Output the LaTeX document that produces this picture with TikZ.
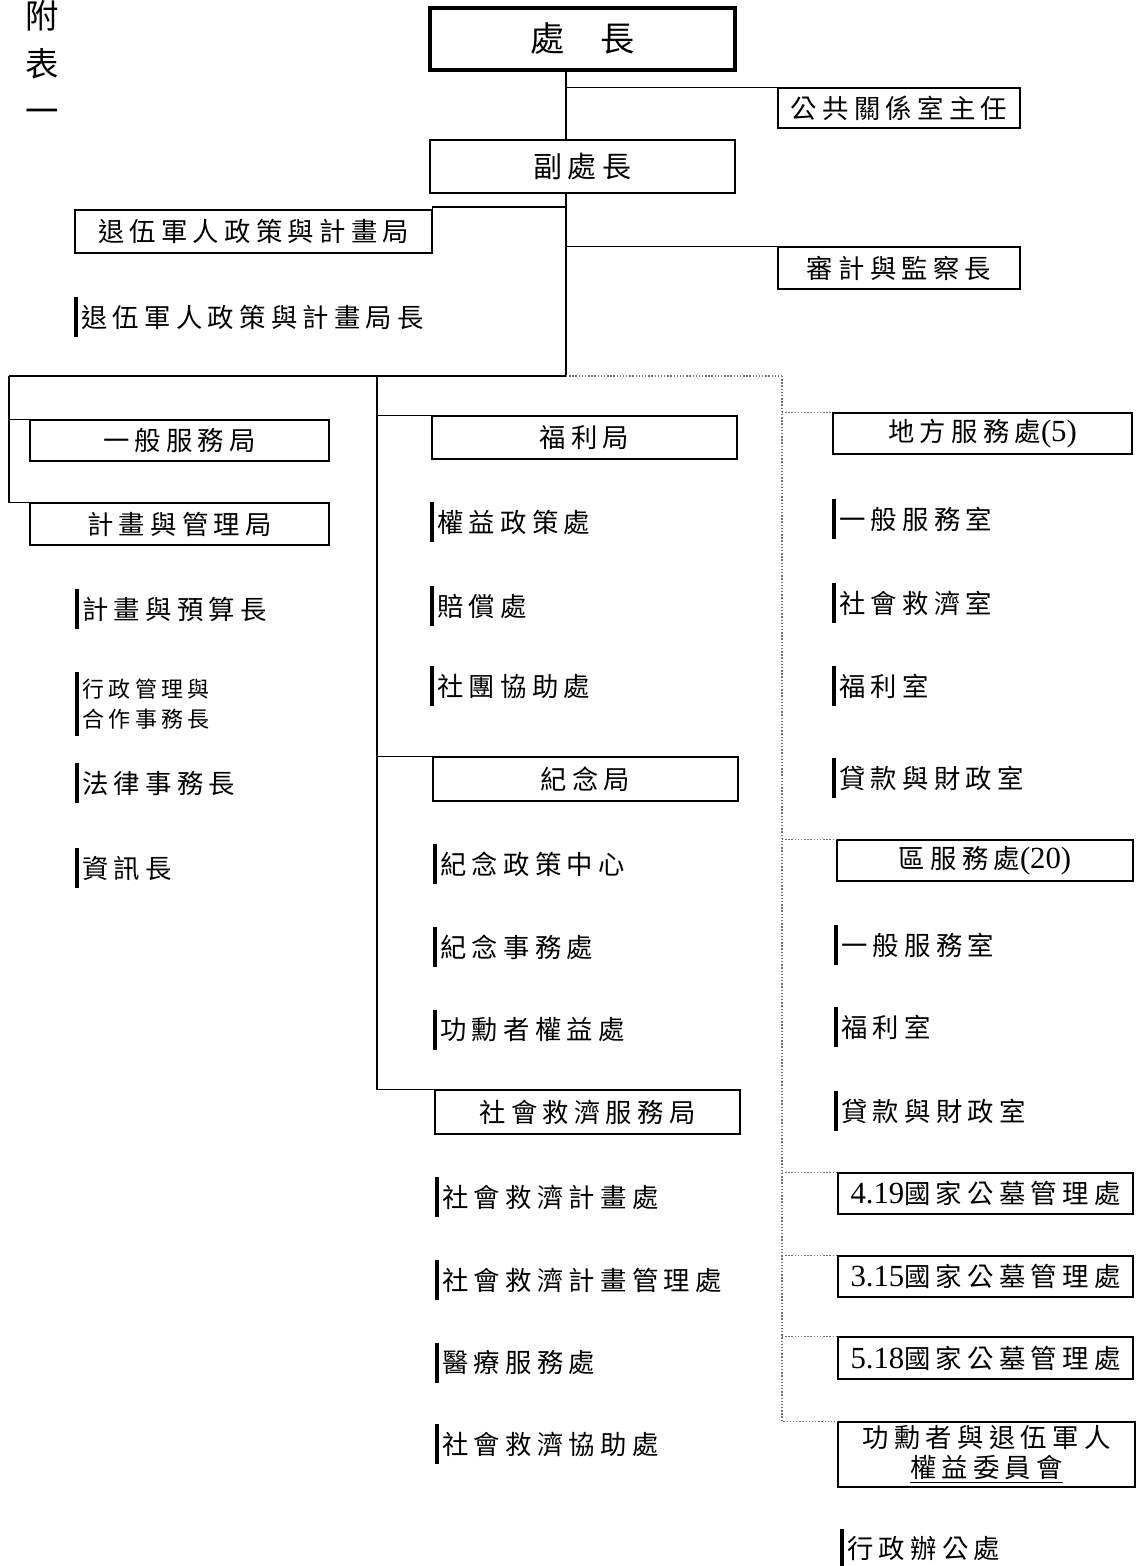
\documentclass[tikz,border=0pt]{standalone}
\usepackage{fontspec}
\setmainfont{Liberation Serif}
\newfontfamily\cjk[LetterSpace=20]{Noto Sans CJK TC}
\newfontfamily\numfont{Liberation Serif}
\newcommand{\nm}[1]{{\numfont\fontsize{17.5}{17.5}\selectfont #1}}

\begin{document}
\begin{tikzpicture}[x=0.02cm, y=-0.02cm,
  every node/.style={font=\cjk\fontsize{15}{17}\selectfont},
  unit/.style={draw, line width=0.7pt, inner sep=0pt, minimum height=0.84cm},
  item/.style={anchor=west, inner xsep=0.1cm, inner ysep=0pt, minimum height=0.8cm},
  bar/.style={line width=2.4pt},
  link/.style={line width=0.8pt},
  dotlink/.style={line width=0.8pt, black!55, densely dotted}]

\useasboundingbox (0,0) rectangle (1136,1566);

% ===================== TOP: HEAD OFFICE =====================
\node (fubiao) [align=center, font=\cjk\fontsize{19}{27}\selectfont] at (42,62) {附\\表\\一};

\node (chief) [unit, minimum width=6.1cm, minimum height=1.24cm, line width=1.8pt,
      font=\cjk\fontsize{19.5}{20}\selectfont] at (582.5,39) {處\hspace{0.72cm}長};
\node (pr) [unit, minimum width=4.84cm, minimum height=0.8cm] at (899,108) {公共關係室主任};
\node (deputy) [unit, minimum width=6.1cm, minimum height=1.06cm,
      font=\cjk\fontsize{16.5}{18}\selectfont] at (582.5,166.5) {副處長};
\node (vpp) [unit, minimum width=7.14cm, minimum height=0.86cm] at (253.5,231.5) {退伍軍人政策與計畫局};
\node (audit) [unit, minimum width=4.84cm] at (899,268) {審計與監察長};
\node (vppHead) [item] at (76,317) {退伍軍人政策與計畫局長};

% ===================== LEFT: GENERAL / PLANNING =====================
\node (gsb) [unit, minimum width=5.98cm, minimum height=0.82cm] at (179.5,440.5) {一般服務局};
\node (pmb) [unit, minimum width=5.98cm] at (179.5,524) {計畫與管理局};
\node (pmb1) [item] at (77,609) {計畫與預算長};
\node (pmb2) [item, align=left, font=\cjk\fontsize{12.5}{17.5}\selectfont,
      minimum height=1.26cm] at (77,704) {行政管理與\\合作事務長};
\node (pmb3) [item] at (77,783) {法律事務長};
\node (pmb4) [item] at (77,868) {資訊長};

% ===================== MIDDLE: WELFARE / MEMORIAL / RELIEF =====================
\node (wel) [unit, minimum width=6.1cm, minimum height=0.86cm] at (584.5,437.5) {福利局};
\node (wel1) [item] at (432,522) {權益政策處};
\node (wel2) [item] at (432,606) {賠償處};
\node (wel3) [item] at (432,686) {社團協助處};

\node (mem) [unit, minimum width=6.1cm, minimum height=0.88cm] at (585.5,779) {紀念局};
\node (mem1) [item] at (435,864) {紀念政策中心};
\node (mem2) [item] at (435,947) {紀念事務處};
\node (mem3) [item] at (435,1030) {功勳者權益處};

\node (swb) [unit, minimum width=6.1cm, minimum height=0.88cm] at (587.5,1112) {社會救濟服務局};
\node (swb1) [item] at (437,1197) {社會救濟計畫處};
\node (swb2) [item] at (437,1280) {社會救濟計畫管理處};
\node (swb3) [item] at (437,1363) {醫療服務處};
\node (swb4) [item] at (437,1444) {社會救濟協助處};

% ===================== RIGHT: FIELD OFFICES =====================
\node (local) [unit, minimum width=5.98cm, minimum height=0.82cm] at (982.5,433.5) {地方服務處\nm{(5)}};
\node (local1) [item] at (834,519) {一般服務室};
\node (local2) [item] at (834,603) {社會救濟室};
\node (local3) [item] at (834,686) {福利室};
\node (local4) [item] at (834,778) {貸款與財政室};

\node (dist) [unit, minimum width=5.92cm, minimum height=0.82cm] at (985,860.5) {區服務處\nm{(20)}};
\node (dist1) [item] at (836,945) {一般服務室};
\node (dist2) [item] at (836,1027) {福利室};
\node (dist3) [item] at (836,1111) {貸款與財政室};

\node (c419) [unit, minimum width=5.9cm, minimum height=0.82cm] at (985.5,1193.5) {\nm{4.19}國家公墓管理處};
\node (c315) [unit, minimum width=5.9cm, minimum height=0.82cm] at (985.5,1276.5) {\nm{3.15}國家公墓管理處};
\node (c518) [unit, minimum width=5.9cm, minimum height=0.84cm] at (985.5,1358) {\nm{5.18}國家公墓管理處};

\node (comm) [unit, minimum width=5.94cm, minimum height=1.3cm, align=center] at (986.5,1454.5)
    {功勳者與退伍軍人\\\underline{權益委員會}};
\node (comm1) [item] at (842,1549) {行政辦公處};

% ===================== CONNECTORS =====================
\coordinate (spine) at (566,376);
\coordinate (vppJoin) at (566,207);
\coordinate (hubL) at (9,376);
\coordinate (hubM) at (377,376);
\coordinate (hubR) at (782,376);

\draw[link] (chief.south -| spine) -- (deputy.north -| spine);
\draw[link] (deputy.south -| spine) -- (spine);
\draw[link] (pr.north west -| spine) -- (pr.north west);
\draw[link] (vppJoin) -| (vpp.south east);
\draw[link] (audit.north west -| spine) -- (audit.north west);

\draw[link] (hubL) -- (spine);
\draw[dotlink] (spine) -- (hubR);

\draw[link] (hubL) |- (pmb.north west);
\draw[link] (gsb.north west -| hubL) -- (gsb.north west);

\draw[link] (hubM) |- (swb.north west);
\draw[link] (wel.north west -| hubM) -- (wel.north west);
\draw[link] (mem.north west -| hubM) -- (mem.north west);

\draw[dotlink] (hubR) |- (comm.north west);
\foreach \b in {local,dist,c419,c315,c518}
    \draw[dotlink] (\b.north west -| hubR) -- (\b.north west);

% side bars of the sub-units
\foreach \n in {vppHead,pmb1,pmb2,pmb3,pmb4,wel1,wel2,wel3,mem1,mem2,mem3,
                swb1,swb2,swb3,swb4,local1,local2,local3,local4,dist1,dist2,dist3,comm1}
    \draw[bar] (\n.north west) -- (\n.south west);

\end{tikzpicture}
\end{document}
